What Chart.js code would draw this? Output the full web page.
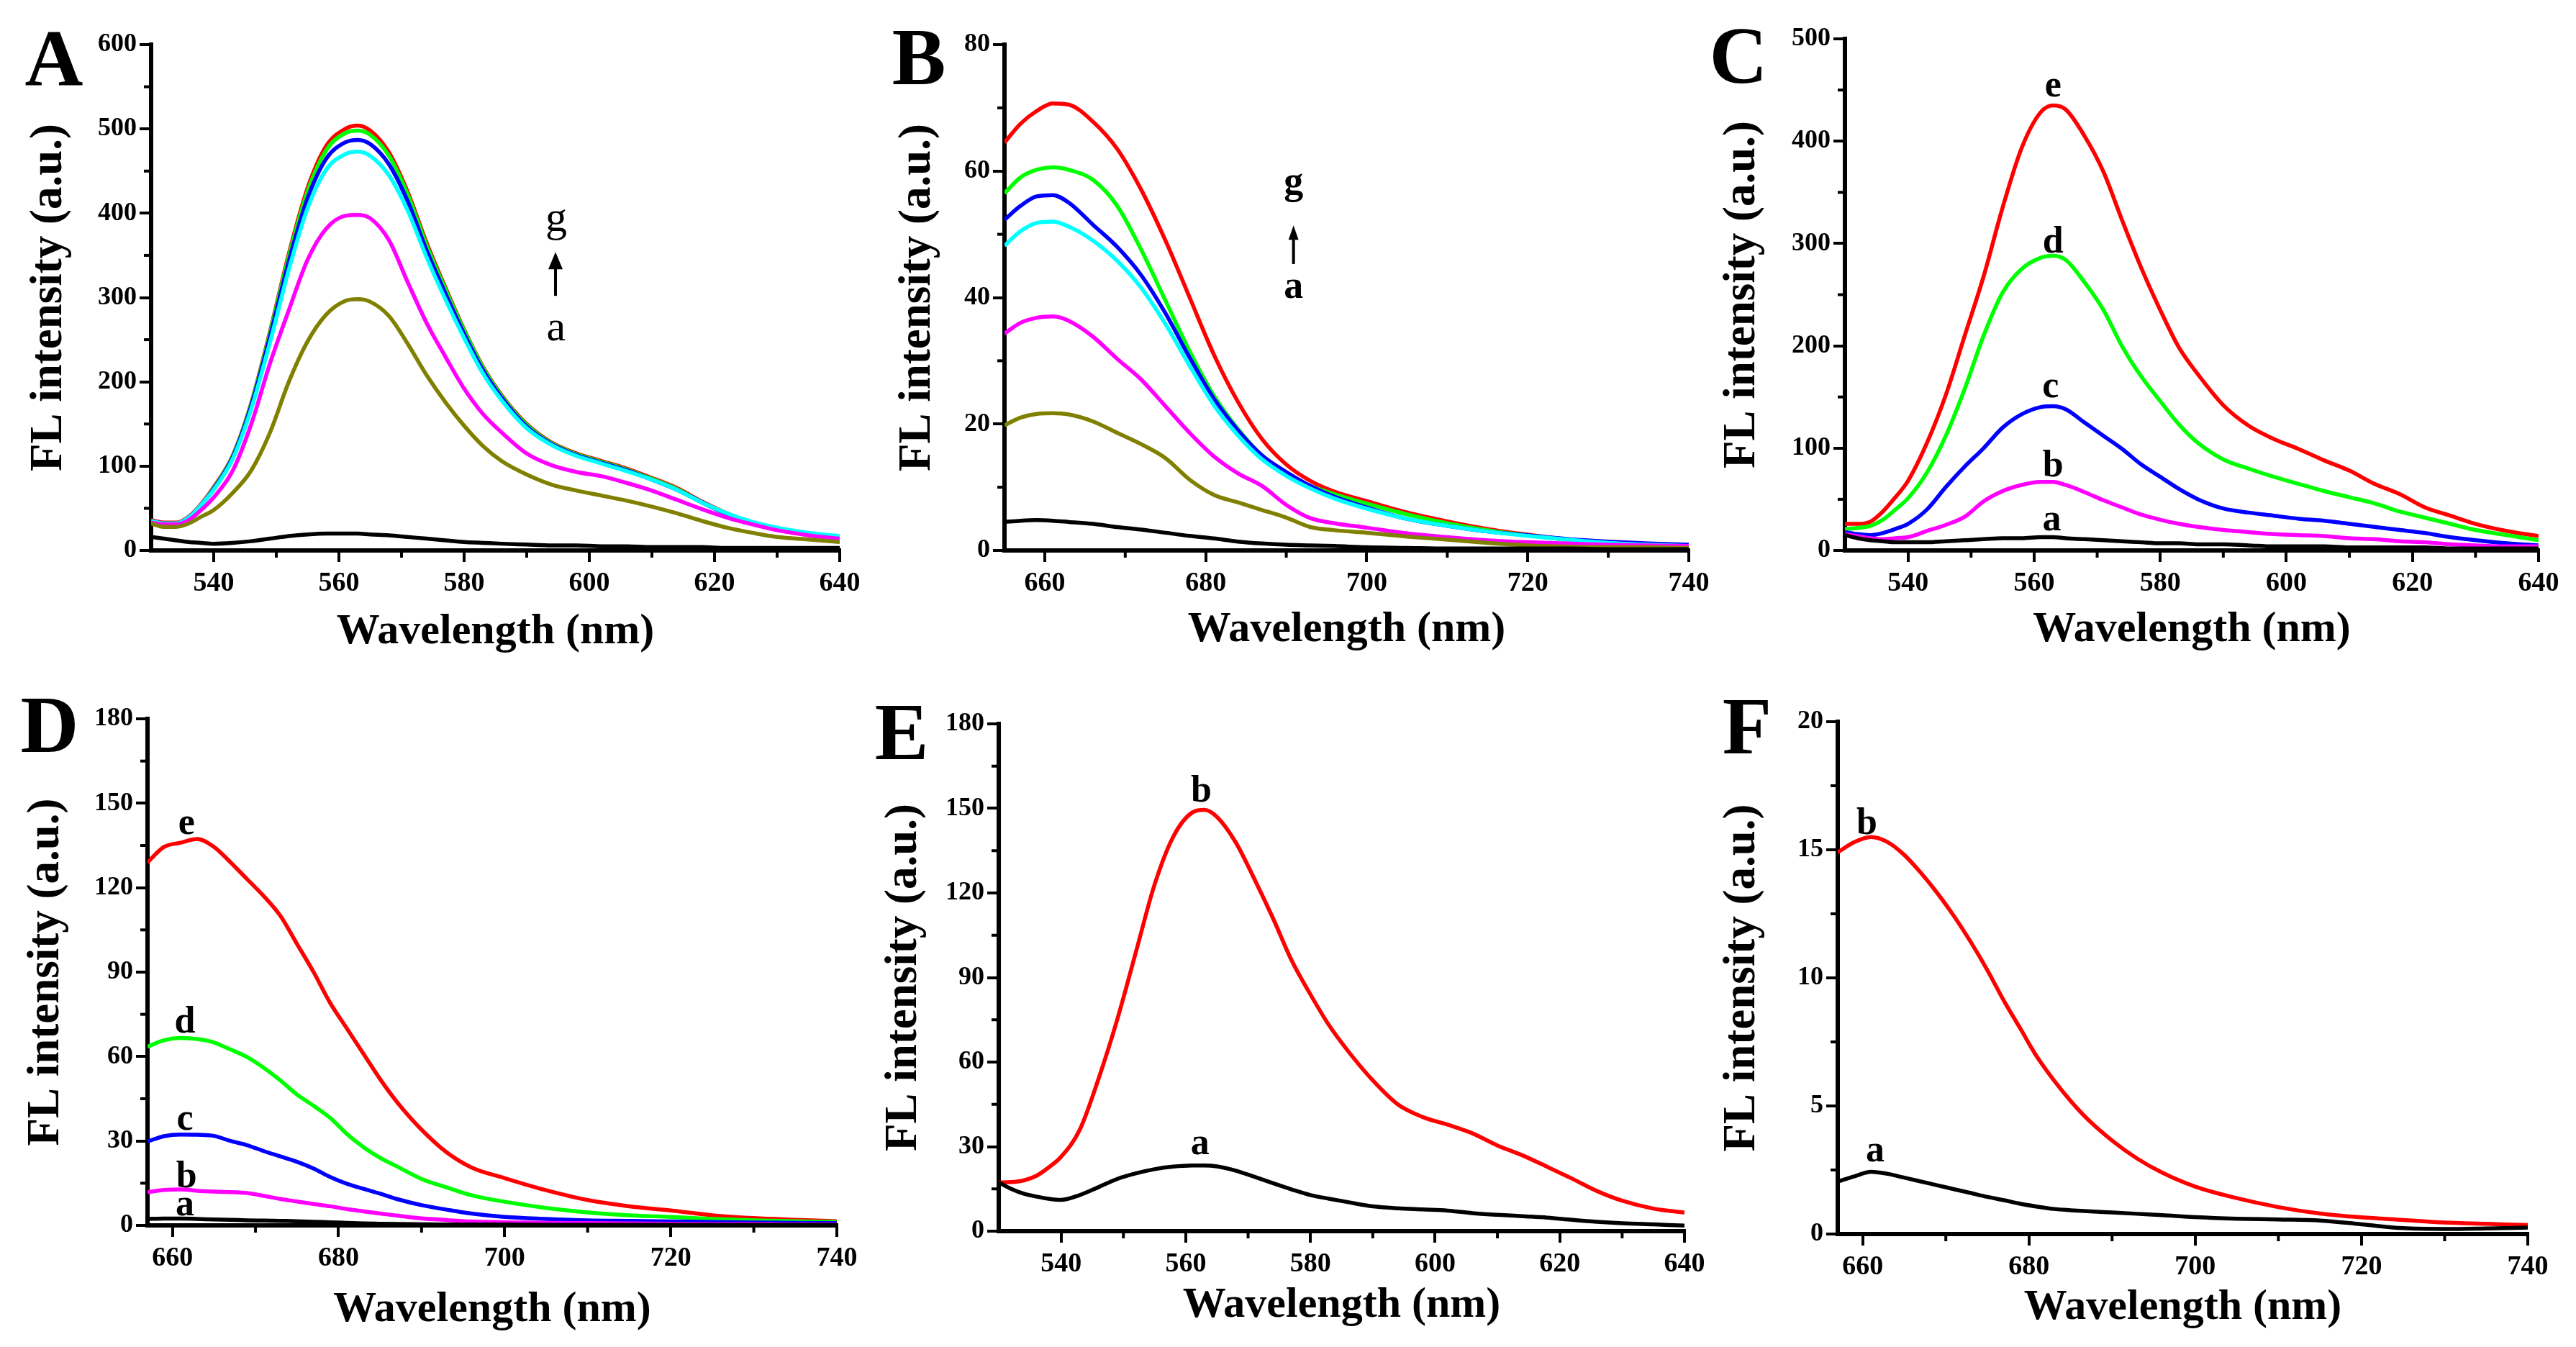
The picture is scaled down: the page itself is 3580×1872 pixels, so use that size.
<!DOCTYPE html>
<html>
<head>
<meta charset="utf-8">
<script src="https://cdn.jsdelivr.net/npm/chart.js@4.4.0/dist/chart.umd.min.js"></script>
<style>
  html, body { margin: 0; padding: 0; background: #fff; }
  body { width: 3580px; height: 1872px; position: relative; overflow: hidden; }
  canvas { position: absolute; }
</style>
</head>
<body>
<canvas id="panelA"></canvas>
<canvas id="panelB"></canvas>
<canvas id="panelC"></canvas>
<canvas id="panelD"></canvas>
<canvas id="panelE"></canvas>
<canvas id="panelF"></canvas>
<script>
// wavelength grids (nm)
const wlShort = [530, 532, 534, 536, 538, 540, 543, 546, 549, 552, 555, 558, 561, 563, 565, 568, 571, 574, 577, 580, 583, 586, 590, 594, 598, 602, 606, 610, 614, 618, 622, 626, 630, 635, 640];
const wlB = [655, 657, 659, 661, 663, 666, 669, 672, 675, 678, 681, 684, 687, 690, 693, 696, 700, 705, 710, 715, 720, 725, 730, 735, 740];
const wlLong = [657, 659, 661, 663, 665, 667, 669, 671, 673, 675, 677, 679, 681, 683, 685, 687, 690, 693, 696, 700, 705, 710, 715, 720, 725, 730, 735, 740];

// panel A
const aCurveA = [16, 14, 12, 10, 9, 8, 9, 11, 14, 17, 19, 20, 20, 20, 19, 18, 16, 14, 12, 10, 9, 8, 7, 6, 6, 5, 5, 4, 4, 4, 3, 3, 3, 3, 3];
const aCurveB = [32, 28, 28, 32, 40, 48, 68, 95, 140, 200, 248, 280, 296, 298, 295, 278, 245, 208, 176, 148, 124, 106, 90, 78, 71, 65, 59, 52, 44, 35, 27, 21, 16, 13, 10];
const aCurveC = [33, 31, 31, 36, 48, 63, 94, 150, 222, 285, 345, 382, 397, 398, 394, 368, 318, 270, 230, 192, 162, 140, 115, 101, 93, 88, 80, 71, 60, 49, 39, 31, 24, 18, 14];
const aCurveD = [35, 32, 32, 39, 54, 72, 108, 168, 247, 333, 406, 452, 470, 473, 468, 445, 403, 348, 298, 252, 210, 178, 145, 125, 112, 103, 94, 84, 72, 57, 44, 34, 27, 21, 17];
const aCurveE = [35, 32, 32, 39, 54, 73, 110, 172, 254, 343, 418, 465, 484, 487, 482, 458, 414, 356, 305, 257, 214, 181, 147, 126, 113, 104, 95, 84, 72, 57, 43, 33, 26, 20, 16];
const aCurveF = [35, 32, 32, 39, 54, 74, 111, 174, 258, 349, 426, 475, 495, 498, 493, 468, 422, 362, 310, 261, 217, 183, 149, 127, 114, 105, 96, 85, 73, 57, 44, 33, 26, 20, 16];
const aCurveG = [36, 33, 33, 40, 55, 75, 112, 175, 260, 352, 430, 480, 500, 504, 498, 472, 425, 365, 312, 262, 218, 184, 150, 128, 115, 106, 97, 86, 74, 58, 44, 33, 26, 20, 16];

// panel B
const bCurveA = [4.5, 4.7, 4.8, 4.7, 4.5, 4.2, 3.7, 3.3, 2.8, 2.3, 1.9, 1.4, 1.1, 0.9, 0.8, 0.7, 0.5, 0.4, 0.3, 0.3, 0.3, 0.3, 0.2, 0.2, 0.2];
const bCurveB = [19.8, 21, 21.6, 21.7, 21.5, 20.4, 18.6, 16.8, 14.6, 11.2, 8.8, 7.6, 6.4, 5.2, 3.7, 3.2, 2.8, 2.2, 1.7, 1.2, 0.8, 0.6, 0.5, 0.5, 0.4];
const bCurveC = [34.3, 36, 36.8, 37, 36.3, 33.8, 30.3, 27, 22.8, 18.6, 14.9, 12.2, 10.2, 7.2, 5.1, 4.3, 3.6, 2.7, 2.1, 1.6, 1.3, 1.1, 0.9, 0.8, 0.7];
const bCurveD = [48.2, 50.5, 51.8, 52, 51.2, 49, 45.8, 41.5, 35.8, 29.2, 23, 18.2, 14.4, 11.8, 9.8, 8.2, 6.6, 5, 3.9, 3, 2.3, 1.7, 1.2, 0.9, 0.7];
const bCurveE = [52.3, 54.5, 56, 56.2, 55, 51.5, 48, 43.5, 37.5, 30.5, 24, 19, 15, 12.4, 10.2, 8.5, 6.8, 5, 3.9, 3, 2.4, 1.8, 1.4, 1.1, 0.9];
const bCurveF = [56.5, 59, 60.2, 60.6, 60.2, 58.6, 54.5, 47.5, 39.5, 31.5, 24.5, 19.2, 15, 12.2, 10.2, 8.9, 7.4, 5.7, 4.3, 3.2, 2.4, 1.7, 1.2, 1, 0.8];
const bCurveG = [64.5, 67.5, 69.5, 70.7, 70.5, 67.8, 63.5, 57, 49, 40, 31, 23.5, 17.6, 13.6, 11, 9.3, 7.8, 6, 4.6, 3.4, 2.5, 1.7, 1.2, 1, 0.8];

// panel C
const cCurveA = [15, 12, 10, 9, 8, 8, 8, 9, 10, 11, 12, 12, 13, 13, 12, 11, 10, 9, 8, 7, 7, 6, 6, 5, 4, 4, 4, 3, 3, 3, 3, 2, 2, 2, 2];
const cCurveB = [16, 14, 12, 11, 12, 13, 19, 25, 33, 48, 58, 64, 67, 67, 64, 57, 49, 42, 35, 30, 26, 23, 20, 18, 16, 15, 14, 12, 11, 9, 8, 6, 5, 4, 4];
const cCurveC = [18, 16, 15, 17, 21, 26, 40, 62, 82, 100, 120, 133, 140, 141, 138, 125, 112, 99, 84, 72, 60, 50, 41, 37, 34, 31, 29, 26, 23, 20, 17, 13, 10, 7, 5];
const cCurveD = [21, 22, 24, 30, 40, 51, 76, 112, 158, 210, 252, 275, 286, 288, 284, 262, 235, 199, 170, 146, 123, 105, 89, 80, 72, 65, 58, 52, 46, 38, 32, 26, 20, 15, 10];
const cCurveE = [26, 26, 28, 38, 52, 68, 105, 152, 210, 268, 335, 393, 428, 435, 431, 405, 370, 322, 276, 235, 198, 172, 142, 122, 109, 99, 88, 78, 65, 55, 42, 34, 26, 19, 14];

// panel D
const dCurveA = [2.3, 2.4, 2.4, 2.3, 2.1, 2, 1.8, 1.7, 1.6, 1.5, 1.3, 1.1, 0.9, 0.7, 0.6, 0.5, 0.4, 0.3, 0.3, 0.3, 0.2, 0.2, 0.2, 0.2, 0.2, 0.2, 0.2, 0.2];
const dCurveB = [11.8, 12.6, 12.8, 12.3, 12, 11.8, 11.5, 10.5, 9.4, 8.5, 7.6, 6.8, 5.8, 5, 4.2, 3.5, 2.5, 1.9, 1.4, 1.1, 0.9, 0.8, 0.7, 0.6, 0.5, 0.5, 0.4, 0.4];
const dCurveC = [29.8, 31.7, 32.3, 32.2, 31.8, 30, 28.5, 26.4, 24.5, 22.6, 20.2, 17.2, 14.8, 13, 11.3, 9.4, 7.2, 5.6, 4.2, 3, 2.3, 1.8, 1.6, 1.4, 1.2, 1, 0.9, 0.8];
const dCurveD = [63.5, 65.8, 66.6, 66.2, 65, 62.5, 59.8, 56, 51.5, 46.5, 42.5, 38.2, 32.5, 27.8, 24, 21, 16.5, 13.5, 10.7, 8.4, 6.2, 4.6, 3.6, 3, 2.3, 1.8, 1.5, 1.2];
const dCurveE = [129, 134.5, 136, 137.3, 134.5, 129, 123, 117, 110, 100, 90, 79, 70, 61, 52, 44, 34, 26, 20.6, 16.8, 12.5, 9, 6.8, 5.3, 3.6, 2.6, 2, 1.5];

// panel E
const eCurveA = [17.3, 15, 13.3, 12.3, 11.5, 11.1, 12.8, 15.6, 18.5, 20.5, 22, 22.9, 23.3, 23.3, 23, 21.5, 19.3, 17, 14.8, 12.8, 11.5, 10.3, 8.8, 8.1, 7.7, 7.3, 6.4, 5.8, 5.3, 4.8, 4, 3.3, 2.8, 2.4, 2];
const eCurveB = [17.3, 17.4, 18, 19.6, 22.6, 26.4, 36, 54, 75, 99, 123, 140, 148.5, 149.5, 147, 138, 125, 111, 96, 84, 73, 64, 53.5, 45, 40.5, 37.8, 34.7, 30.4, 26.9, 22.8, 18.6, 14.2, 10.8, 8, 6.6];

// panel F
const fCurveA = [2.05, 2.25, 2.43, 2.35, 2.2, 2.05, 1.9, 1.75, 1.6, 1.45, 1.32, 1.18, 1.07, 0.98, 0.93, 0.89, 0.84, 0.79, 0.74, 0.66, 0.6, 0.57, 0.53, 0.38, 0.23, 0.2, 0.22, 0.25];
const fCurveB = [14.9, 15.3, 15.5, 15.3, 14.8, 14.1, 13.3, 12.4, 11.4, 10.3, 9.1, 8, 6.9, 6, 5.2, 4.5, 3.65, 2.95, 2.4, 1.85, 1.4, 1.05, 0.8, 0.65, 0.55, 0.45, 0.4, 0.35];

// tick labels
const xTicksShort = [540, 560, 580, 600, 620, 640];
const xMinorShort = [550, 570, 590, 610, 630];
const xTicksLong = [660, 680, 700, 720, 740];
const xMinorLong = [670, 690, 710, 730];
const yTicksA = [0, 100, 200, 300, 400, 500, 600];
const yTicksB = [0, 20, 40, 60, 80];
const yTicksC = [0, 100, 200, 300, 400, 500];
const yTicksDE = [0, 30, 60, 90, 120, 150, 180];
const yTicksF = [0, 5, 10, 15, 20];

const COLORS = { red: '#ff0000', green: '#00ff00', blue: '#0000ff', cyan: '#00ffff', magenta: '#ff00ff', olive: '#808000', black: '#000000' };
const SERIF = '"Liberation Serif", "Times New Roman", serif';
const Y_W = 200, X_H = 160, PAD_T = 40, PAD_R = 45;

function pts(xs, ys) {
  return xs.map((x, i) => ({ x: x, y: ys[i] }));
}
function halves(ticks) {
  const out = [];
  for (let i = 0; i < ticks.length - 1; i++) out.push((ticks[i] + ticks[i + 1]) / 2);
  return out;
}

// minor ticks, panel letter, curve labels and arrows
const panelDecor = {
  id: 'panelDecor',
  afterDraw(chart, args, opts) {
    const ctx = chart.ctx, xs = chart.scales.x, ys = chart.scales.y, area = chart.chartArea;
    ctx.save();
    ctx.fillStyle = '#000';
    ctx.strokeStyle = '#000';
    ctx.lineWidth = 4;
    opts.xMinor.forEach(v => {
      const px = xs.getPixelForValue(v);
      ctx.beginPath(); ctx.moveTo(px, area.bottom); ctx.lineTo(px, area.bottom + 10); ctx.stroke();
    });
    opts.yMinor.forEach(v => {
      const py = ys.getPixelForValue(v);
      ctx.beginPath(); ctx.moveTo(area.left, py); ctx.lineTo(area.left - 10, py); ctx.stroke();
    });

    ctx.font = 'bold 112px ' + SERIF;
    ctx.textAlign = 'center';
    ctx.textBaseline = 'alphabetic';
    ctx.fillText(opts.letter, area.left + opts.letterDx, area.top + opts.letterDy + 37);

    opts.notes.forEach(n => {
      ctx.font = (n.bold ? 'bold ' : '') + n.size + 'px ' + SERIF;
      ctx.fillText(n.text, xs.getPixelForValue(n.x), ys.getPixelForValue(n.y));
    });

    if (opts.arrow) {
      const a = opts.arrow;
      const px = xs.getPixelForValue(a.x);
      const yb = ys.getPixelForValue(a.from), yt = ys.getPixelForValue(a.to);
      ctx.lineWidth = 4;
      ctx.beginPath(); ctx.moveTo(px, yb); ctx.lineTo(px, yt + a.head - 2); ctx.stroke();
      ctx.beginPath();
      ctx.moveTo(px, yt);
      ctx.lineTo(px - a.half, yt + a.head);
      ctx.lineTo(px + a.half, yt + a.head);
      ctx.closePath();
      ctx.fill();
    }
    ctx.restore();
  }
};

function buildPanel(p) {
  const g = p.geom;
  const canvas = document.getElementById(p.id);
  const left = g.L - Y_W, top = g.T - PAD_T;
  const w = g.R + PAD_R - left, h = g.B + X_H - top;
  canvas.width = w; canvas.height = h;
  canvas.style.left = left + 'px'; canvas.style.top = top + 'px';
  canvas.style.width = w + 'px'; canvas.style.height = h + 'px';

  const axisBase = {
    type: 'linear',
    grid: { display: true, drawOnChartArea: false, drawTicks: true, tickLength: 16, lineWidth: 4, color: '#000', tickColor: '#000' },
    border: { display: true, color: '#000', width: 6 }
  };

  new Chart(canvas.getContext('2d'), {
    type: 'line',
    data: {
      datasets: p.series.map(s => ({
        data: pts(p.wl, s.values),
        borderColor: COLORS[s.color],
        borderWidth: 5.5,
        pointRadius: 0,
        fill: false,
        cubicInterpolationMode: 'monotone'
      }))
    },
    options: {
      responsive: false,
      animation: false,
      devicePixelRatio: 1,
      layout: { padding: { top: PAD_T, right: PAD_R, left: 0, bottom: 0 } },
      plugins: {
        legend: { display: false },
        tooltip: { enabled: false },
        panelDecor: {
          letter: p.letter, letterDx: p.letterPos[0], letterDy: p.letterPos[1],
          notes: p.notes, arrow: p.arrow,
          xMinor: p.xMinor, yMinor: halves(p.yTicks)
        }
      },
      scales: {
        x: Object.assign({}, axisBase, {
          min: p.xMin, max: p.xMax,
          afterFit: s => { s.height = X_H; },
          afterBuildTicks: s => { s.ticks = p.xTicks.map(v => ({ value: v })); },
          ticks: { autoSkip: false, maxRotation: 0, padding: 7, color: '#000', font: { family: SERIF, size: 38, weight: 'bold' } },
          title: { display: true, text: 'Wavelength (nm)', color: '#000', font: { family: SERIF, size: 60, weight: 'bold' }, padding: { top: 0, bottom: p.xTitlePad } }
        }),
        y: Object.assign({}, axisBase, {
          min: p.yTicks[0], max: p.yTicks[p.yTicks.length - 1],
          afterFit: s => { s.width = Y_W; },
          afterBuildTicks: s => { s.ticks = p.yTicks.map(v => ({ value: v })); },
          ticks: { autoSkip: false, padding: 4, color: '#000', font: { family: SERIF, size: 36, weight: 'bold' } },
          title: { display: true, text: 'FL intensity (a.u.)', color: '#000', font: { family: SERIF, size: 63, weight: 'bold' }, padding: { top: p.yTitlePad, bottom: 0 } }
        })
      }
    },
    plugins: [panelDecor]
  });
}

const panels = [
  {
    id: 'panelA', letter: 'A', geom: { L: 210, R: 1167, T: 62, B: 765 }, letterPos: [-135, 20],
    wl: wlShort, xMin: 530, xMax: 640, xTicks: xTicksShort, xMinor: xMinorShort, yTicks: yTicksA,
    xTitlePad: 11, yTitlePad: 21,
    series: [
      { color: 'black', values: aCurveA }, { color: 'olive', values: aCurveB }, { color: 'magenta', values: aCurveC },
      { color: 'cyan', values: aCurveD }, { color: 'blue', values: aCurveE }, { color: 'green', values: aCurveF },
      { color: 'red', values: aCurveG }
    ],
    notes: [{ text: 'g', x: 594.7, y: 379, size: 60, bold: false }, { text: 'a', x: 594.7, y: 249, size: 60, bold: false }],
    arrow: { x: 594.6, from: 302, to: 354, head: 24, half: 10 }
  },
  {
    id: 'panelB', letter: 'B', geom: { L: 1396, R: 2347, T: 62, B: 765 }, letterPos: [-119, 18],
    wl: wlB, xMin: 655, xMax: 740, xTicks: xTicksLong, xMinor: xMinorLong, yTicks: yTicksB,
    xTitlePad: 14, yTitlePad: 42,
    series: [
      { color: 'black', values: bCurveA }, { color: 'olive', values: bCurveB }, { color: 'magenta', values: bCurveC },
      { color: 'cyan', values: bCurveD }, { color: 'blue', values: bCurveE }, { color: 'green', values: bCurveF },
      { color: 'red', values: bCurveG }
    ],
    notes: [{ text: 'g', x: 690.9, y: 56.4, size: 54, bold: true }, { text: 'a', x: 690.9, y: 40, size: 54, bold: true }],
    arrow: { x: 690.9, from: 45.3, to: 51.4, head: 20, half: 7 }
  },
  {
    id: 'panelC', letter: 'C', geom: { L: 2564, R: 3528, T: 54, B: 765 }, letterPos: [-148, 24],
    wl: wlShort, xMin: 530, xMax: 640, xTicks: xTicksShort, xMinor: xMinorShort, yTicks: yTicksC,
    xTitlePad: 14, yTitlePad: 20,
    series: [
      { color: 'black', values: cCurveA }, { color: 'magenta', values: cCurveB }, { color: 'blue', values: cCurveC },
      { color: 'green', values: cCurveD }, { color: 'red', values: cCurveE }
    ],
    notes: [
      { text: 'e', x: 563, y: 444, size: 52, bold: true }, { text: 'd', x: 563, y: 291, size: 52, bold: true },
      { text: 'c', x: 562.6, y: 150, size: 52, bold: true }, { text: 'b', x: 563, y: 72.4, size: 52, bold: true },
      { text: 'a', x: 562.8, y: 20, size: 52, bold: true }
    ]
  },
  {
    id: 'panelD', letter: 'D', geom: { L: 205, R: 1163, T: 999, B: 1703 }, letterPos: [-136, 9],
    wl: wlLong, xMin: 657, xMax: 740, xTicks: xTicksLong, xMinor: xMinorLong, yTicks: yTicksDE,
    xTitlePad: 7, yTitlePad: 22,
    series: [
      { color: 'black', values: dCurveA }, { color: 'magenta', values: dCurveB }, { color: 'blue', values: dCurveC },
      { color: 'green', values: dCurveD }, { color: 'red', values: dCurveE }
    ],
    notes: [
      { text: 'e', x: 661.7, y: 139.1, size: 52, bold: true }, { text: 'd', x: 661.5, y: 68.5, size: 52, bold: true },
      { text: 'c', x: 661.5, y: 33.9, size: 52, bold: true }, { text: 'b', x: 661.7, y: 13.6, size: 52, bold: true },
      { text: 'a', x: 661.5, y: 3.5, size: 52, bold: true }
    ]
  },
  {
    id: 'panelE', letter: 'E', geom: { L: 1388, R: 2341, T: 1006, B: 1711 }, letterPos: [-135, 12],
    wl: wlShort, xMin: 530, xMax: 640, xTicks: xTicksShort, xMinor: xMinorShort, yTicks: yTicksDE,
    xTitlePad: 21, yTitlePad: 31,
    series: [{ color: 'black', values: eCurveA }, { color: 'red', values: eCurveB }],
    notes: [{ text: 'b', x: 562.5, y: 152.4, size: 52, bold: true }, { text: 'a', x: 562.3, y: 27.2, size: 52, bold: true }]
  },
  {
    id: 'panelF', letter: 'F', geom: { L: 2554, R: 3513, T: 1003, B: 1715 }, letterPos: [-126, 7],
    wl: wlLong, xMin: 657, xMax: 740, xTicks: xTicksLong, xMinor: xMinorLong, yTicks: yTicksF,
    xTitlePad: 22, yTitlePad: 30,
    series: [{ color: 'black', values: fCurveA }, { color: 'red', values: fCurveB }],
    notes: [{ text: 'b', x: 660.5, y: 15.62, size: 52, bold: true }, { text: 'a', x: 661.5, y: 2.85, size: 52, bold: true }]
  }
];

panels.forEach(buildPanel);
</script>
</body>
</html>
